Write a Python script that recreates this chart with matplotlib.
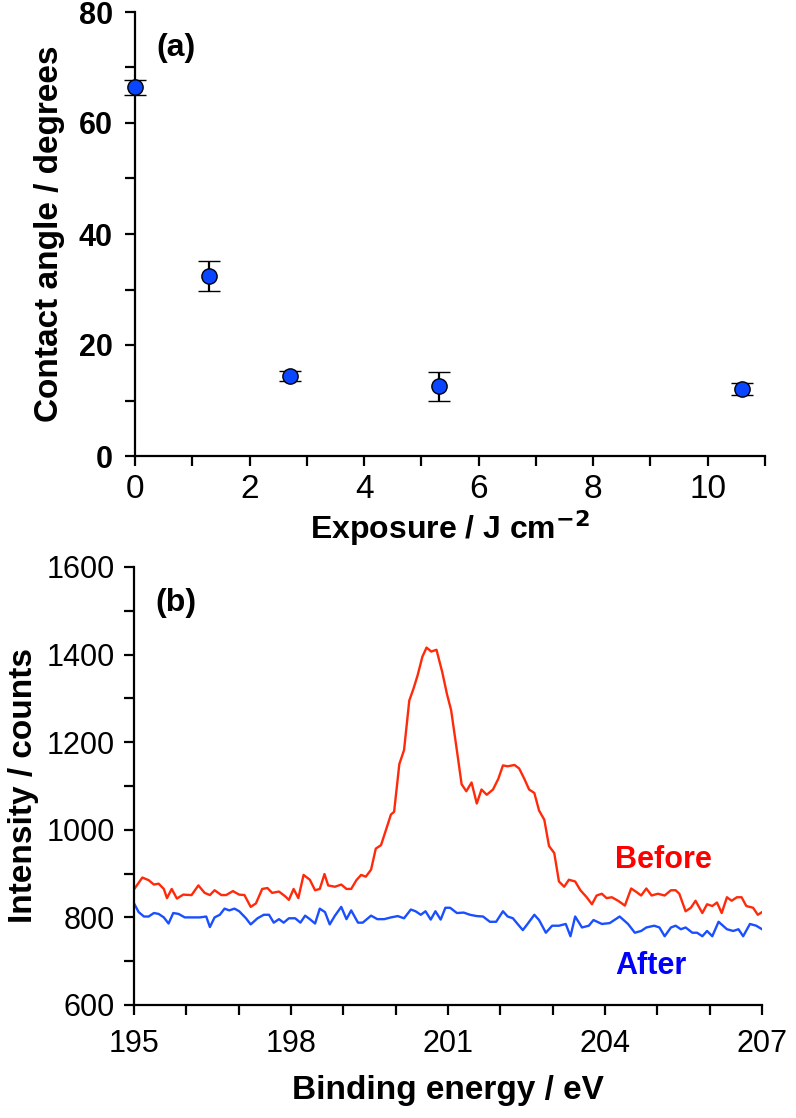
import matplotlib
matplotlib.use("Agg")
import matplotlib.pyplot as plt
from matplotlib.ticker import MultipleLocator
import matplotlib.font_manager as fm

plt.rcParams['font.family'] = ['Liberation Sans', 'DejaVu Sans']

# ---- Panel (a) data ----
exposure = [0.0, 1.3, 2.7, 5.3, 10.6]
contact_angle = [66.4, 32.5, 14.4, 12.6, 12.1]
angle_err = [1.3, 2.7, 0.9, 2.6, 1.1]

# ---- Panel (b) data ----
before_e = [195.0, 195.16, 195.28, 195.38, 195.47, 195.57, 195.63, 195.72, 195.82, 195.94,
            196.10, 196.23, 196.35, 196.45, 196.54, 196.67, 196.76, 196.89, 197.01, 197.11,
            197.23, 197.33, 197.45, 197.55, 197.64, 197.77, 197.89, 197.96, 198.05, 198.14,
            198.24, 198.36, 198.46, 198.55, 198.64, 198.71, 198.84, 198.96, 199.06, 199.15,
            199.25, 199.34, 199.43, 199.53, 199.62, 199.72, 199.81, 199.91, 199.97, 200.07,
            200.16, 200.26, 200.34, 200.42, 200.51, 200.59, 200.68, 200.78, 200.89, 200.98,
            201.06, 201.17, 201.26, 201.35, 201.45, 201.55, 201.64, 201.74, 201.86, 201.96,
            202.05, 202.14, 202.27, 202.36, 202.46, 202.55, 202.65, 202.74, 202.84, 202.93,
            203.03, 203.12, 203.22, 203.31, 203.43, 203.53, 203.65, 203.75, 203.84, 203.94,
            204.03, 204.13, 204.25, 204.38, 204.50, 204.60, 204.69, 204.79, 204.89, 205.01,
            205.14, 205.26, 205.35, 205.42, 205.54, 205.64, 205.73, 205.86, 205.95, 206.05,
            206.14, 206.23, 206.33, 206.42, 206.52, 206.61, 206.70, 206.83, 206.92, 207.0]
before_counts = [864, 891, 885, 875, 877, 865, 844, 865, 843, 852,
                 851, 873, 856, 851, 862, 851, 851, 860, 852, 851,
                 824, 832, 865, 867, 856, 859, 848, 840, 865, 844,
                 897, 886, 862, 865, 899, 873, 870, 875, 865, 865,
                 885, 897, 893, 909, 957, 965, 998, 1035, 1041, 1150,
                 1182, 1295, 1322, 1353, 1395, 1416, 1407, 1411, 1360, 1310,
                 1273, 1181, 1104, 1088, 1108, 1060, 1092, 1080, 1092, 1116,
                 1147, 1145, 1148, 1140, 1116, 1092, 1084, 1044, 1023, 963,
                 947, 882, 870, 886, 882, 862, 846, 830, 850, 854,
                 844, 846, 838, 827, 866, 858, 850, 866, 850, 854,
                 850, 862, 862, 854, 814, 822, 838, 810, 830, 826,
                 834, 810, 846, 838, 846, 846, 826, 822, 806, 812]

after_e = [195.0, 195.09, 195.19, 195.28, 195.38, 195.47, 195.57, 195.66, 195.75, 195.85,
           195.97, 196.10, 196.26, 196.38, 196.45, 196.54, 196.64, 196.73, 196.82, 196.92,
           197.01, 197.14, 197.23, 197.36, 197.48, 197.58, 197.67, 197.77, 197.86, 197.96,
           198.08, 198.18, 198.27, 198.36, 198.46, 198.55, 198.65, 198.74, 198.84, 198.96,
           199.06, 199.15, 199.28, 199.37, 199.53, 199.65, 199.78, 199.91, 200.04, 200.16,
           200.29, 200.38, 200.48, 200.57, 200.67, 200.76, 200.86, 200.95, 201.04, 201.17,
           201.30, 201.42, 201.55, 201.67, 201.80, 201.92, 202.05, 202.14, 202.24, 202.33,
           202.43, 202.52, 202.65, 202.74, 202.87, 202.99, 203.12, 203.25, 203.34, 203.43,
           203.56, 203.69, 203.78, 203.94, 204.09, 204.28, 204.44, 204.57, 204.69, 204.79,
           204.94, 205.04, 205.14, 205.26, 205.35, 205.45, 205.54, 205.67, 205.76, 205.86,
           205.95, 206.05, 206.17, 206.33, 206.45, 206.55, 206.64, 206.77, 206.89, 207.0]
after_counts = [832, 812, 802, 802, 810, 808, 800, 786, 810, 808,
                800, 800, 800, 802, 778, 800, 806, 820, 816, 820,
                814, 798, 784, 798, 806, 806, 788, 796, 788, 798,
                798, 788, 804, 796, 786, 820, 812, 784, 804, 824,
                796, 816, 788, 788, 804, 796, 796, 800, 803, 798,
                818, 814, 806, 814, 795, 814, 795, 822, 822, 810,
                811, 806, 803, 802, 790, 790, 814, 802, 798, 785,
                771, 785, 806, 794, 765, 781, 781, 785, 757, 802,
                777, 781, 794, 785, 787, 802, 785, 765, 769, 777,
                781, 777, 757, 777, 781, 773, 777, 765, 765, 757,
                769, 757, 790, 773, 769, 773, 757, 785, 781, 773]

W, H = 796, 1118
fig = plt.figure(figsize=(W / 100, H / 100), dpi=100)

def box(l, t, r, b):
    return [l / W, 1 - b / H, (r - l) / W, (b - t) / H]

installed = {f.name for f in fm.fontManager.ttflist}
narrow = 'Liberation Sans Narrow' if 'Liberation Sans Narrow' in installed else 'Liberation Sans'

# ---------------- Panel (a) ----------------
ax1 = fig.add_axes(box(135, 12, 765, 456))
ax1.errorbar(exposure, contact_angle, yerr=angle_err, fmt='o', color='black',
             ecolor='black', elinewidth=1.6, capsize=8, capthick=1.6,
             markerfacecolor='#0a46ff', markeredgecolor='black', markeredgewidth=1.0,
             markersize=11, zorder=3, clip_on=False)
ax1.set_xlim(0, 11)
ax1.set_ylim(0, 80)
ax1.xaxis.set_major_locator(MultipleLocator(2))
ax1.xaxis.set_minor_locator(MultipleLocator(1))
ax1.yaxis.set_major_locator(MultipleLocator(20))
ax1.yaxis.set_minor_locator(MultipleLocator(10))
for s in ['top', 'right']:
    ax1.spines[s].set_visible(False)
for s in ['left', 'bottom']:
    ax1.spines[s].set_linewidth(1.6)
ax1.tick_params(which='both', direction='out', width=1.6, length=7)
ax1.tick_params(axis='x', labelsize=24, pad=6)
ax1.tick_params(axis='y', labelsize=22, pad=9)
for lab in ax1.get_xticklabels():
    lab.set_family(narrow)
for lab in ax1.get_yticklabels():
    lab.set_fontweight('bold')
ax1.set_ylabel('Contact angle / degrees', fontsize=24, fontweight='bold', labelpad=10)
ax1.set_xlabel('Exposure / J cm$^{\\mathbf{-2}}$', fontsize=23, fontweight='bold',
               family=narrow, labelpad=2)
ax1.text(0.38, 73.5, '(a)', fontsize=23, fontweight='bold', va='center', ha='left')

# ---------------- Panel (b) ----------------
ax2 = fig.add_axes(box(134, 567, 762, 1005))
ax2.plot(before_e, before_counts, color='#ff2a0a', lw=1.7)
ax2.plot(after_e, after_counts, color='#1a4fff', lw=1.7)
ax2.set_xlim(195, 207)
ax2.set_ylim(600, 1600)
ax2.xaxis.set_major_locator(MultipleLocator(3))
ax2.xaxis.set_minor_locator(MultipleLocator(1))
ax2.yaxis.set_major_locator(MultipleLocator(200))
ax2.yaxis.set_minor_locator(MultipleLocator(100))
for s in ['top', 'right']:
    ax2.spines[s].set_visible(False)
for s in ['left', 'bottom']:
    ax2.spines[s].set_linewidth(1.6)
ax2.tick_params(which='both', direction='out', width=1.6, length=7)
ax2.tick_params(axis='x', labelsize=22, pad=10)
ax2.tick_params(axis='y', labelsize=22, pad=7)
ax2.set_ylabel('Intensity / counts', fontsize=24, fontweight='bold', labelpad=5)
ax2.set_xlabel('Binding energy / eV', fontsize=24, fontweight='bold', labelpad=12)
ax2.text(195.4, 1518, '(b)', fontsize=23, fontweight='bold', va='center', ha='left')
ax2.text(204.2, 932, 'Before', fontsize=22, fontweight='bold', color='#ff0000',
         va='center', ha='left')
ax2.text(204.2, 688, 'After', fontsize=22, fontweight='bold', color='#0000ff',
         va='center', ha='left')

fig.savefig('out.png', dpi=100)
